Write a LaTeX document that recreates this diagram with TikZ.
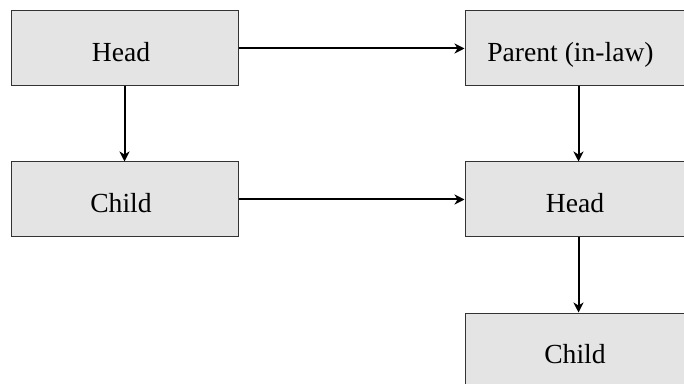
\documentclass[tikz,border=0pt]{standalone}
\usepackage{fontspec}
\setmainfont{Liberation Serif}
\usetikzlibrary{arrows.meta}
\definecolor{boxfill}{HTML}{E4E4E4}
\definecolor{boxline}{HTML}{333333}
\begin{document}
\begin{tikzpicture}[x=0.5pt,y=-0.5pt,
  box/.style={draw=boxline,line width=0.5pt,fill=boxfill,minimum width=113.5pt,minimum height=37.5pt,inner sep=0pt},
  lbl/.style={anchor=base,inner sep=0pt,font=\fontsize{13.8}{16}\selectfont},
  conn/.style={line width=1pt,-{Stealth[length=5pt,width=5pt,inset=1.5pt]}}]
\useasboundingbox (0,0) rectangle (684,384);
\clip (0,0) rectangle (684,384);
\node[box] (h1) at (124.5,48.5) {};
\node[box] (c1) at (124.5,199.5) {};
\node[box] (p) at (578.5,48.5) {};
\node[box] (h2) at (578.5,199.5) {};
\node[box] (c2) at (578.5,350.5) {};
\node[lbl] (h1t) at (121,61.5) {Head};
\node[lbl] (c1t) at (121,212.5) {Child};
\node[lbl] (pt) at (570.5,61.5) {Parent (in-law)};
\node[lbl] (h2t) at (575,212.5) {Head};
\node[lbl] (c2t) at (575,363.5) {Child};
\draw[conn] (h1.east) -- (p.west);
\draw[conn] (c1.east) -- (h2.west);
\draw[conn] (h1.south) -- (c1.north);
\draw[conn] (p.south) -- (h2.north);
\draw[conn] (h2.south) -- (c2.north);
\end{tikzpicture}
\end{document}
